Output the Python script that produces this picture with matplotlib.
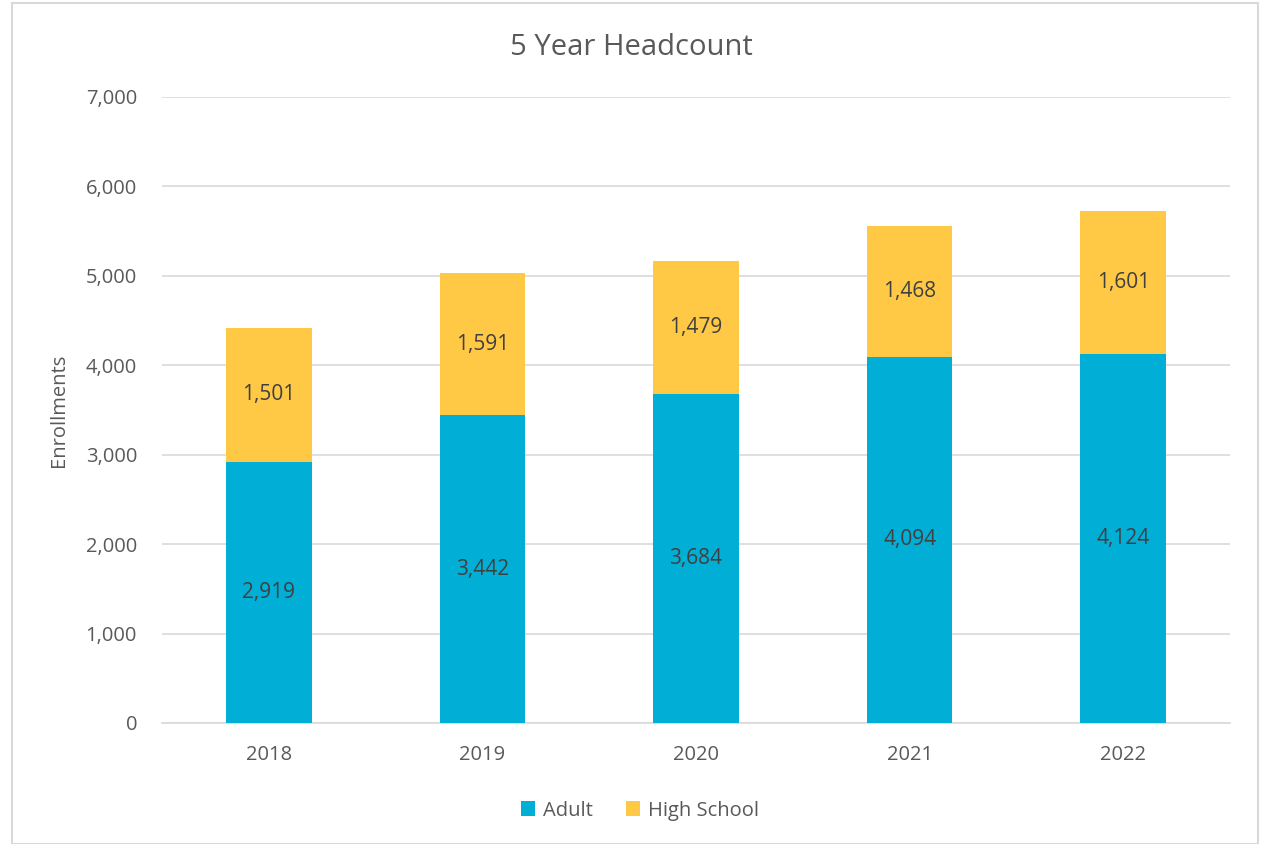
import matplotlib.pyplot as plt
from matplotlib.patches import Rectangle
import numpy as np

years = ['2018', '2019', '2020', '2021', '2022']
adult = [2919, 3442, 3684, 4094, 4124]
high_school = [1501, 1591, 1479, 1468, 1601]

plt.rcParams['font.family'] = ['Open Sans', 'DejaVu Sans']
blue = '#00AED6'
yellow = '#FFC845'
gray = '#595959'

fig = plt.figure(figsize=(12.62, 8.44), dpi=100)
ax = fig.add_axes([0.1284, 0.1434, 0.8462, 0.7417])

# outer chart border
fig.patches.append(Rectangle((12 / 1262, 0.0), 1246 / 1262, 841 / 844, transform=fig.transFigure,
                             fill=False, edgecolor='#D9D9D9', linewidth=1.5))

x = np.arange(len(years))
b1 = ax.bar(x, adult, width=0.4, color=blue, label='Adult', zorder=3)
b2 = ax.bar(x, high_school, width=0.4, bottom=adult, color=yellow, label='High School', zorder=3)

ax.bar_label(b1, labels=[f'{v:,}' for v in adult], label_type='center', fontsize=15, color='#404040')
ax.bar_label(b2, labels=[f'{v:,}' for v in high_school], label_type='center', fontsize=15, color='#404040')

ax.set_xlim(-0.5, 4.5)
ax.set_ylim(0, 7000)
ax.set_yticks(range(0, 7001, 1000))
ax.set_yticklabels([f'{v:,}' for v in range(0, 7001, 1000)])
ax.set_xticks(x)
ax.set_xticklabels(years)
ax.grid(axis='y', color='#D9D9D9', linewidth=1.2, zorder=0)
for s in ['top', 'right', 'left']:
    ax.spines[s].set_visible(False)
ax.spines['bottom'].set_color('#D9D9D9')
ax.spines['bottom'].set_linewidth(1.2)
ax.tick_params(axis='both', length=0, labelsize=14.5, colors=gray)
ax.tick_params(axis='y', pad=18)
ax.tick_params(axis='x', pad=16)

ax.set_ylabel('Enrollments', fontsize=14.5, color=gray, labelpad=12)
fig.text(0.5, 0.944, '5 Year Headcount', ha='center', va='center', fontsize=21, color=gray)

ax.legend(loc='upper center', bbox_to_anchor=(0.4476, -0.095), ncol=2, frameon=False,
          fontsize=14.5, labelcolor=gray, handlelength=0.7, handleheight=0.7,
          handletextpad=0.4, columnspacing=1.6)

plt.savefig('out.png', dpi=100)
